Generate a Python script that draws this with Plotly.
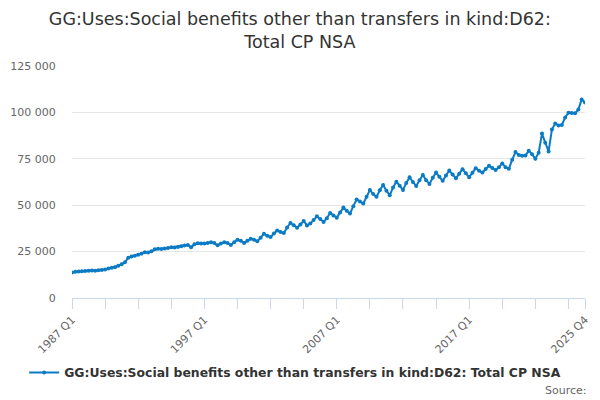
import plotly.graph_objects as go

# quarterly values, 1987 Q1 .. 2025 Q4
years = list(range(1987, 2026))
quarters = ['Q1', 'Q2', 'Q3', 'Q4']
periods = [f'{y} {q}' for y in years for q in quarters]

values = [
    13800, 14100, 14300, 14400,   # 1987
    14600, 14700, 14800, 14700,   # 1988
    14900, 15100, 15300, 15900,   # 1989
    16300, 16600, 17400, 18200,   # 1990
    19200, 21700, 22300, 22800,   # 1991
    23300, 23900, 24600, 24500,   # 1992
    25200, 26200, 26500, 26400,   # 1993
    26700, 27000, 27300, 27200,   # 1994
    27500, 27900, 28300, 28600,   # 1995
    27300, 29000, 29500, 29300,   # 1996
    29300, 29700, 30000, 29600,   # 1997
    28400, 29400, 30000, 29700,   # 1998
    28600, 30000, 31400, 30800,   # 1999
    29700, 30800, 31900, 31400,   # 2000
    30600, 32500, 34600, 33500,   # 2001
    32800, 34800, 36400, 35500,   # 2002
    35000, 38000, 40400, 39200,   # 2003
    37900, 39600, 41500, 39100,   # 2004
    40100, 42000, 44000, 42500,   # 2005
    40900, 43000, 45800, 44500,   # 2006
    43300, 46000, 48700, 47000,   # 2007
    45500, 49500, 53100, 52000,   # 2008
    50900, 54500, 58200, 56000,   # 2009
    54500, 58000, 60900, 57800,   # 2010
    55400, 59500, 62700, 60500,   # 2011
    58200, 62000, 65100, 62500,   # 2012
    60300, 63500, 66300, 63500,   # 2013
    61400, 64800, 67600, 65300,   # 2014
    63200, 66000, 68700, 66500,   # 2015
    64500, 67000, 69400, 67200,   # 2016
    65100, 67500, 69900, 68500,   # 2017
    67600, 69500, 71200, 70000,   # 2018
    69000, 70500, 72500, 70500,   # 2019
    69600, 74500, 78600, 77000,   # 2020
    76600, 76800, 79300, 77500,   # 2021
    75000, 78300, 88600, 83700,   # 2022
    79000, 90800, 94000, 93000,   # 2023
    93200, 97300, 99800, 99700,   # 2024
    99500, 101600, 107000, 105300,  # 2025
]

series_name = 'GG:Uses:Social benefits other than transfers in kind:D62: Total CP NSA'
y_ticks = [0, 25000, 50000, 75000, 100000, 125000]

idx = list(range(len(periods)))
tick_idx = list(range(0, len(periods), 10)) + [len(periods) - 1]
tick_text = [periods[i] if (i % 40 == 0 or i == len(periods) - 1) else '' for i in tick_idx]

fig = go.Figure()
fig.add_trace(go.Scatter(
    x=idx, y=values, name=series_name,
    mode='lines+markers',
    line=dict(color='#0a7bc4', width=2),
    marker=dict(color='#0a7bc4', size=4),
))

# page body has an 8px margin, so the figure is 8px smaller and offset
fig.update_layout(
    width=592, height=392,
    paper_bgcolor='white', plot_bgcolor='white',
    font=dict(family='DejaVu Sans', color='#666666'),
    separators='. ',
    margin=dict(l=64, r=15, t=58, b=102),
    title=dict(
        text='GG:Uses:Social benefits other than transfers in kind:D62:<br>Total CP NSA',
        x=0.493, xanchor='center', y=0.957, yanchor='top',
        font=dict(size=17.5, color='#333333'),
    ),
    showlegend=True,
    legend=dict(
        orientation='h', x=0.435, xanchor='center', y=-0.323, yanchor='middle',
        itemwidth=30,
        font=dict(size=12.4, color='#333333', weight='bold'),
    ),
    annotations=[dict(
        text='Source:', x=1.008, xref='paper', xanchor='right',
        y=-0.40, yref='paper', yanchor='middle', showarrow=False,
        font=dict(size=11, color='#666666'),
    )],
)

fig.update_xaxes(
    range=[0, len(periods) - 1], automargin=False,
    tickvals=tick_idx, ticktext=tick_text, tickangle=-45,
    showgrid=False, zeroline=False,
    showline=True, linecolor='#ccd6eb', linewidth=1,
    ticks='outside', ticklen=10, tickcolor='#ccd6eb',
    tickfont=dict(size=11, color='#666666'),
)
fig.update_yaxes(
    range=[0, 125000], tickvals=y_ticks, tickformat=',d', automargin=False,
    showgrid=True, gridcolor='#e6e6e6', zeroline=False,
    ticks='outside', ticklen=13, tickcolor='rgba(0,0,0,0)',
    tickfont=dict(size=11, color='#666666'),
)

fig.write_html('out.html')
